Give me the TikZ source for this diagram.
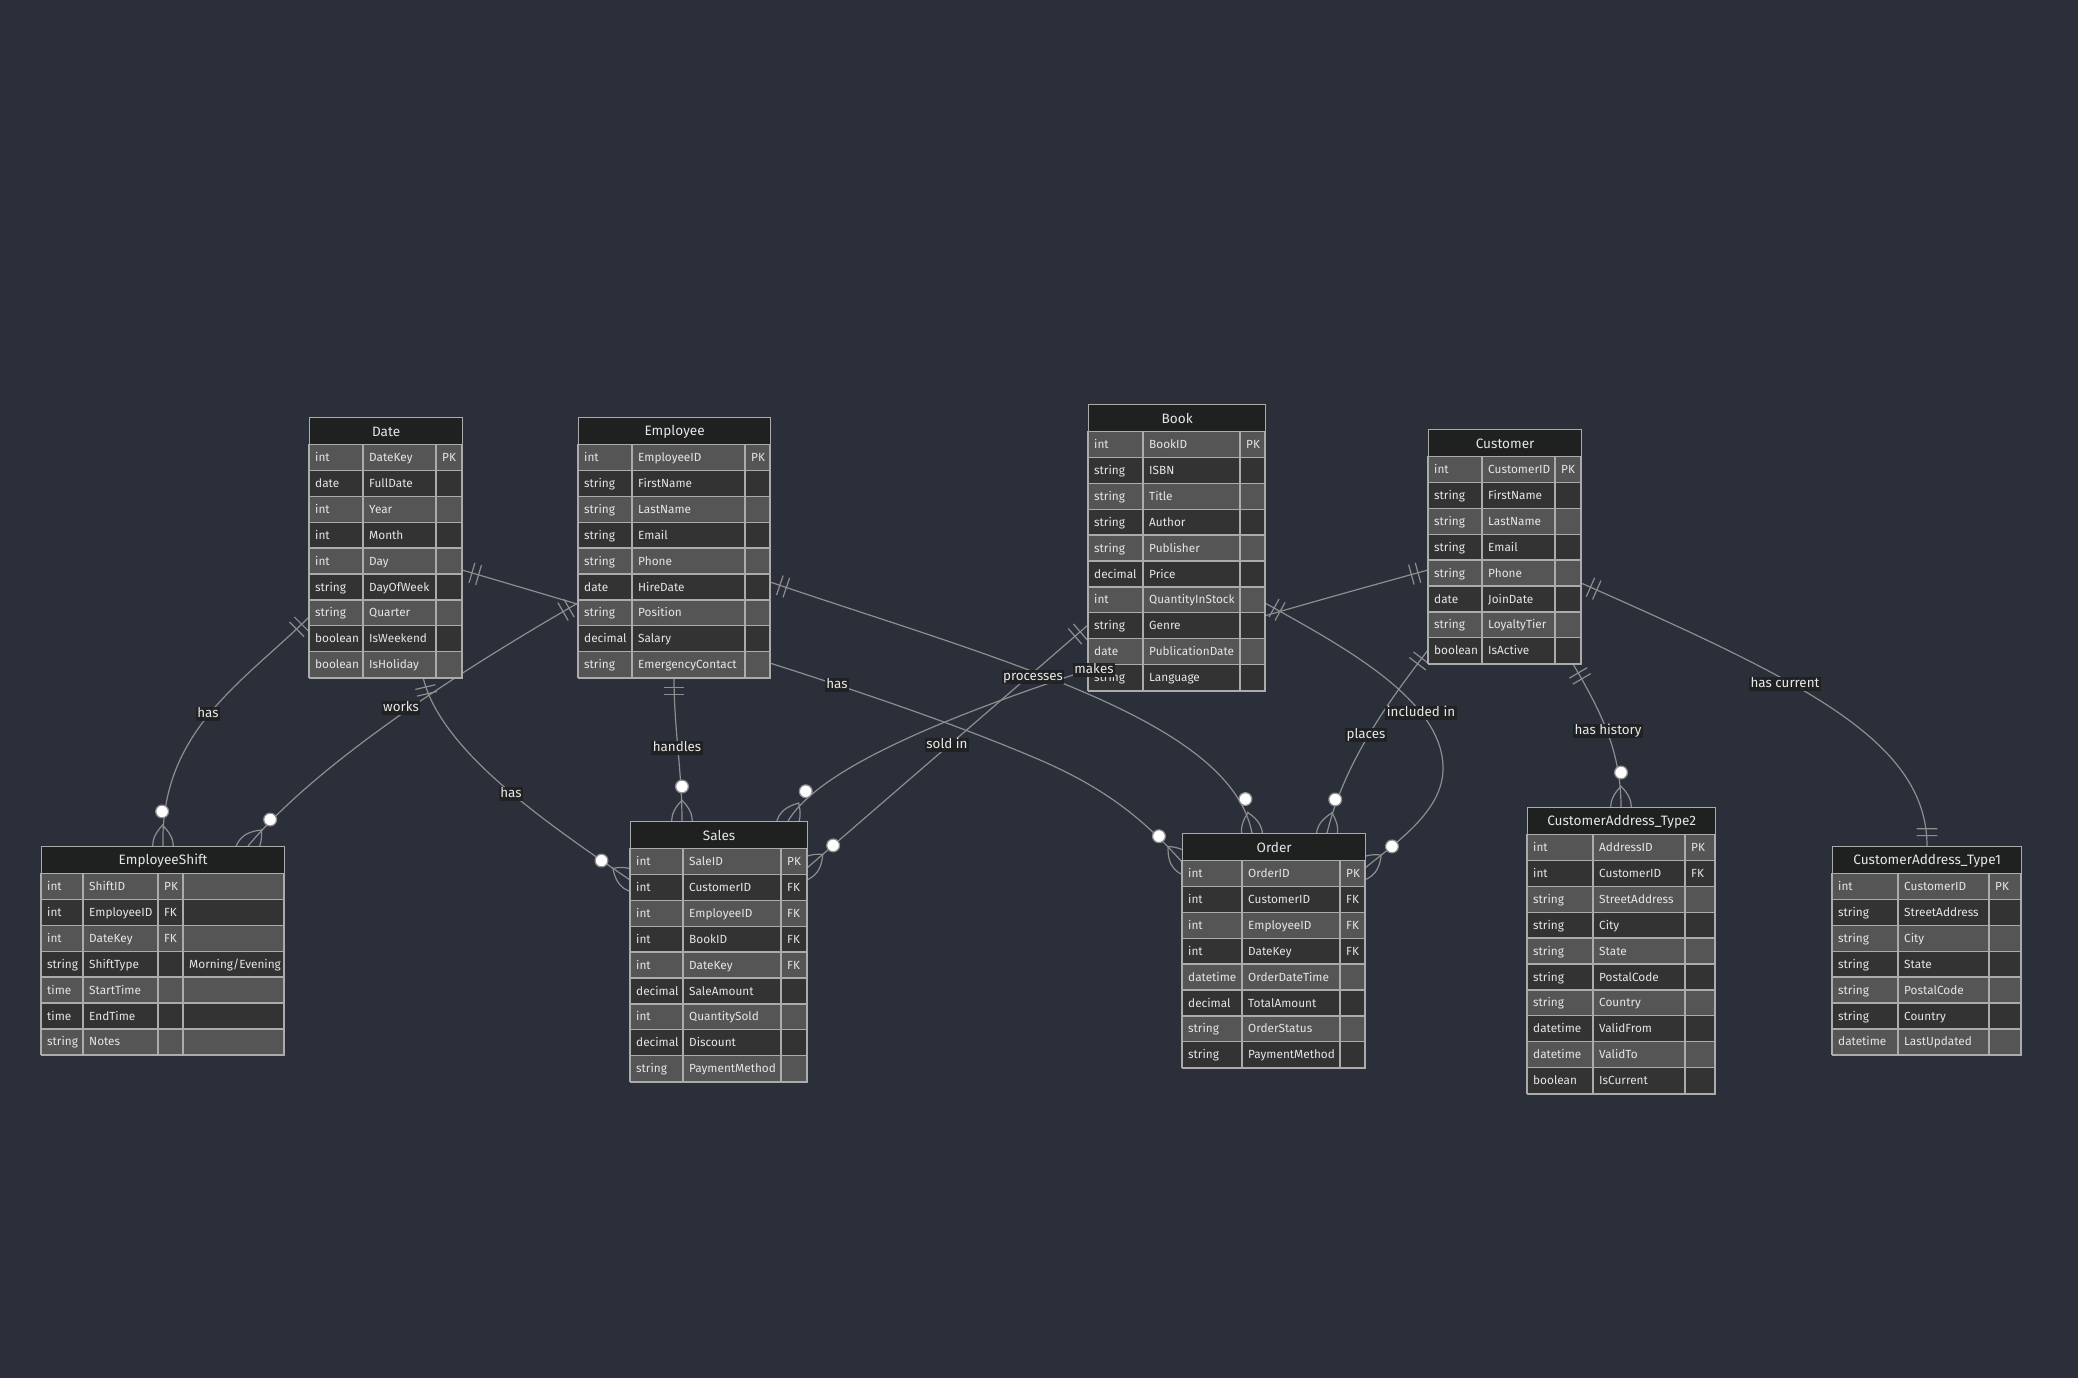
\documentclass[tikz,border=0pt]{standalone}
\usepackage{fontspec}
\setmainfont{Fira Sans}
\usetikzlibrary{calc,decorations.markings}

\definecolor{bgcol}{HTML}{2B2F3A}
\definecolor{headcol}{HTML}{1F2020}
\definecolor{oddcol}{HTML}{555555}
\definecolor{evencol}{HTML}{333333}
\definecolor{gridcol}{HTML}{ABABAB}
\definecolor{txtcol}{HTML}{E6E6E6}
\definecolor{edgecol}{HTML}{8E8E8E}
\definecolor{lblbg}{HTML}{1F2021}
\definecolor{lbltxt}{HTML}{E8E8E8}

\pgfdeclarelayer{bg}
\pgfdeclarelayer{edges}
\pgfdeclarelayer{labels}
\pgfsetlayers{bg,edges,main,labels}

\newcommand\erfontrow{\fontsize{11.8}{14}\selectfont}
\newcommand\erfonthead{\fontsize{13.6}{16}\selectfont}
\newcommand\erfontlbl{\fontsize{13.4}{16}\selectfont}

\tikzset{
  gridline/.style={draw=gridcol, line width=1.3pt},
  headbox/.style={draw=gridcol, line width=1.3pt, fill=headcol, text=txtcol,
    font=\erfonthead, inner sep=0pt, minimum height=27.5pt, anchor=north west},
  framebox/.style={draw=gridcol, line width=1.3pt, inner sep=0pt, anchor=north west},
  cell/.style={font=\erfontrow, text=txtcol, inner sep=0pt, text height=8.2pt,
    text depth=0pt, anchor=west},
  lbl/.style={font=\erfontlbl, text=lbltxt, fill=lblbg, fill opacity=0.92,
    text opacity=1, inner xsep=1.5pt, inner ysep=1pt, text height=9.6pt, text depth=2.8pt},
  edge/.style={draw=edgecol, line width=1.2pt},
  mk/.style={draw=edgecol, line width=1.2pt},
  onestart/.style={postaction={decorate, decoration={markings,
    mark=at position 0 with {\draw[mk] (10.35pt,-10.35pt) -- (10.35pt,10.35pt)
      (17.25pt,-10.35pt) -- (17.25pt,10.35pt);}}}},
  oneend/.style={postaction={decorate, decoration={markings,
    mark=at position 0.9999 with {\draw[mk] (-10.35pt,-10.35pt) -- (-10.35pt,10.35pt)
      (-17.25pt,-10.35pt) -- (-17.25pt,10.35pt);}}}},
  manyend/.style={postaction={decorate, decoration={markings,
    mark=at position 0.9999 with {
      \draw[mk] (-20.7pt,0pt) .. controls (-6.9pt,13.8pt) and (6.9pt,13.8pt) .. (20.7pt,0pt)
        .. controls (6.9pt,-13.8pt) and (-6.9pt,-13.8pt) .. cycle;
      \draw[mk, fill=white] (-34.5pt,0pt) circle[radius=6.4pt];}}}},
}

% table: name, x, y, width, 2nd column, 3rd column, rows, title
\newcommand\ertable[8]{%
  \def\tn{#1}\def\tx{#2}\def\ty{#3}\def\tw{#4}\def\cb{#5}\def\cc{#6}\def\cd{}%
  \node[headbox, minimum width=#4pt] (#1-title) at (#2,#3) {#8};
  \node[framebox, minimum width=#4pt, minimum height={27.5pt+#7*25.9pt}] (#1) at (#2,#3) {};
}
% row: index, type, attribute, key
\newcommand\erow[4]{%
  \pgfmathsetmacro\ry{\ty+27.5+(#1-1)*25.9}%
  \ifodd#1\relax\def\rowfill{oddcol}\else\def\rowfill{evencol}\fi
  \draw[gridline, fill=\rowfill] (\tx,\ry) rectangle ++(\tw,25.9);
  \draw[gridline] (\tx+\cb,\ry) -- ++(0,25.9) (\tx+\cc,\ry) -- ++(0,25.9);
  \ifx\cd\empty\else\draw[gridline] (\tx+\cd,\ry) -- ++(0,25.9);\fi
  \node[cell] (\tn-#1-type) at (\tx+6,\ry+12.95) {#2};
  \node[cell] (\tn-#1-name) at (\tx+\cb+6,\ry+12.95) {#3};
  \if\relax\detokenize{#4}\relax\else
    \node[cell] (\tn-#1-key) at (\tx+\cc+6,\ry+12.95) {#4};\fi
}
% comment cell in the fourth column
\newcommand\ecomment[2]{%
  \pgfmathsetmacro\ry{\ty+27.5+(#1-1)*25.9}%
  \node[cell] (\tn-#1-note) at (\tx+\cd+6,\ry+12.95) {#2};
}

\begin{document}
\begin{tikzpicture}[x=1pt,y=-1pt]
\begin{pgfonlayer}{bg}
\fill[bgcol] (0,0) rectangle (2078,1378);
\end{pgfonlayer}
\useasboundingbox (0,0) rectangle (2078,1378);

% ---------- entities ----------
\ertable{date}{309}{417}{153}{54}{127}{9}{Date}
\erow{1}{int}{DateKey}{PK}
\erow{2}{date}{FullDate}{}
\erow{3}{int}{Year}{}
\erow{4}{int}{Month}{}
\erow{5}{int}{Day}{}
\erow{6}{string}{DayOfWeek}{}
\erow{7}{string}{Quarter}{}
\erow{8}{boolean}{IsWeekend}{}
\erow{9}{boolean}{IsHoliday}{}

\ertable{emp}{578}{417}{192}{54}{167}{9}{Employee}
\erow{1}{int}{EmployeeID}{PK}
\erow{2}{string}{FirstName}{}
\erow{3}{string}{LastName}{}
\erow{4}{string}{Email}{}
\erow{5}{string}{Phone}{}
\erow{6}{date}{HireDate}{}
\erow{7}{string}{Position}{}
\erow{8}{decimal}{Salary}{}
\erow{9}{string}{EmergencyContact}{}

\ertable{book}{1088}{404}{177}{55}{152}{10}{Book}
\erow{1}{int}{BookID}{PK}
\erow{2}{string}{ISBN}{}
\erow{3}{string}{Title}{}
\erow{4}{string}{Author}{}
\erow{5}{string}{Publisher}{}
\erow{6}{decimal}{Price}{}
\erow{7}{int}{QuantityInStock}{}
\erow{8}{string}{Genre}{}
\erow{9}{date}{PublicationDate}{}
\erow{10}{string}{Language}{}

\ertable{cust}{1428}{429}{153}{54}{127}{8}{Customer}
\erow{1}{int}{CustomerID}{PK}
\erow{2}{string}{FirstName}{}
\erow{3}{string}{LastName}{}
\erow{4}{string}{Email}{}
\erow{5}{string}{Phone}{}
\erow{6}{date}{JoinDate}{}
\erow{7}{string}{LoyaltyTier}{}
\erow{8}{boolean}{IsActive}{}

\ertable{shift}{41}{846}{243}{42}{117}{7}{EmployeeShift}
\def\cd{142}
\erow{1}{int}{ShiftID}{PK}
\erow{2}{int}{EmployeeID}{FK}
\erow{3}{int}{DateKey}{FK}
\erow{4}{string}{ShiftType}{}
\ecomment{4}{Morning/Evening}
\erow{5}{time}{StartTime}{}
\erow{6}{time}{EndTime}{}
\erow{7}{string}{Notes}{}

\ertable{sales}{630}{821}{177}{53}{151}{9}{Sales}
\erow{1}{int}{SaleID}{PK}
\erow{2}{int}{CustomerID}{FK}
\erow{3}{int}{EmployeeID}{FK}
\erow{4}{int}{BookID}{FK}
\erow{5}{int}{DateKey}{FK}
\erow{6}{decimal}{SaleAmount}{}
\erow{7}{int}{QuantitySold}{}
\erow{8}{decimal}{Discount}{}
\erow{9}{string}{PaymentMethod}{}

\ertable{order}{1182}{833}{183}{60}{158}{8}{Order}
\erow{1}{int}{OrderID}{PK}
\erow{2}{int}{CustomerID}{FK}
\erow{3}{int}{EmployeeID}{FK}
\erow{4}{int}{DateKey}{FK}
\erow{5}{datetime}{OrderDateTime}{}
\erow{6}{decimal}{TotalAmount}{}
\erow{7}{string}{OrderStatus}{}
\erow{8}{string}{PaymentMethod}{}

\ertable{type2}{1527}{807}{188}{66}{158}{10}{CustomerAddress\_Type2}
\erow{1}{int}{AddressID}{PK}
\erow{2}{int}{CustomerID}{FK}
\erow{3}{string}{StreetAddress}{}
\erow{4}{string}{City}{}
\erow{5}{string}{State}{}
\erow{6}{string}{PostalCode}{}
\erow{7}{string}{Country}{}
\erow{8}{datetime}{ValidFrom}{}
\erow{9}{datetime}{ValidTo}{}
\erow{10}{boolean}{IsCurrent}{}

\ertable{type1}{1832}{846}{189}{66}{157}{7}{CustomerAddress\_Type1}
\erow{1}{int}{CustomerID}{PK}
\erow{2}{string}{StreetAddress}{}
\erow{3}{string}{City}{}
\erow{4}{string}{State}{}
\erow{5}{string}{PostalCode}{}
\erow{6}{string}{Country}{}
\erow{7}{datetime}{LastUpdated}{}

% ---------- relationships ----------
\begin{pgfonlayer}{edges}
\draw[edge, onestart, manyend] ($(date.north west)+(0,200)$)
  .. controls (245,681) and (160,730) .. ($(shift.north west)+(122,0)$);
\draw[edge, onestart, manyend] ($(emp.north west)+(0,186)$)
  .. controls (470,665) and (320,760) .. ($(shift.north west)+(207,0)$);
\draw[edge, onestart, manyend] ($(date.north west)+(114,260)$)
  .. controls (440,750) and (545,822) .. ($(sales.north west)+(0,59)$);
\draw[edge, onestart, manyend] ($(emp.north west)+(96,260)$)
  .. controls (674,730) and (682,770) .. ($(sales.north west)+(52,0)$);
\draw[edge, onestart, manyend] ($(date.north west)+(153,153)$)
  .. controls (700,640) and (900,700) .. (1040,760)
  .. controls (1100,786) and (1140,815) .. ($(order.north west)+(0,29)$);
\draw[edge, onestart, manyend] ($(emp.north west)+(192,165)$)
  .. controls (1000,660) and (1230,720) .. ($(order.north west)+(70,0)$);
\draw[edge, onestart, manyend] ($(book.north west)+(0,221)$)
  -- ($(sales.north west)+(177,47)$);
\draw[edge, onestart, manyend] ($(cust.north west)+(0,141)$)
  .. controls (1100,660) and (835,742) .. ($(sales.north west)+(158,0)$);
\draw[edge, onestart, manyend] ($(cust.north west)+(0,221)$)
  .. controls (1390,700) and (1345,760) .. ($(order.north west)+(145,0)$);
\draw[edge, onestart, manyend] ($(book.north west)+(177,199)$)
  .. controls (1340,645) and (1445,700) .. (1443,770)
  .. controls (1442,810) and (1400,840) .. ($(order.north west)+(183,35)$);
\draw[edge, onestart, manyend] ($(cust.north west)+(145,235)$)
  .. controls (1600,710) and (1621,750) .. ($(type2.north west)+(94,0)$);
\draw[edge, onestart, oneend] ($(cust.north west)+(153,154)$)
  .. controls (1800,680) and (1927,740) .. ($(type1.north west)+(95,0)$);
\end{pgfonlayer}

% ---------- relationship labels ----------
\begin{pgfonlayer}{labels}
\node[lbl] (l-date-shift) at (208,714) {has};
\node[lbl] (l-emp-shift) at (401,708) {works};
\node[lbl] (l-date-sales) at (511,794) {has};
\node[lbl] (l-emp-sales) at (677,748) {handles};
\node[lbl] (l-date-order) at (837,685) {has};
\node[lbl] (l-emp-order) at (1033,677) {processes};
\node[lbl] (l-cust-sales) at (1094,670) {makes};
\node[lbl] (l-book-sales) at (947,745) {sold in};
\node[lbl] (l-cust-order) at (1366,735) {places};
\node[lbl] (l-book-order) at (1421,713) {included in};
\node[lbl] (l-cust-t2) at (1608,731) {has history};
\node[lbl] (l-cust-t1) at (1785,684) {has current};
\end{pgfonlayer}
\end{tikzpicture}
\end{document}
